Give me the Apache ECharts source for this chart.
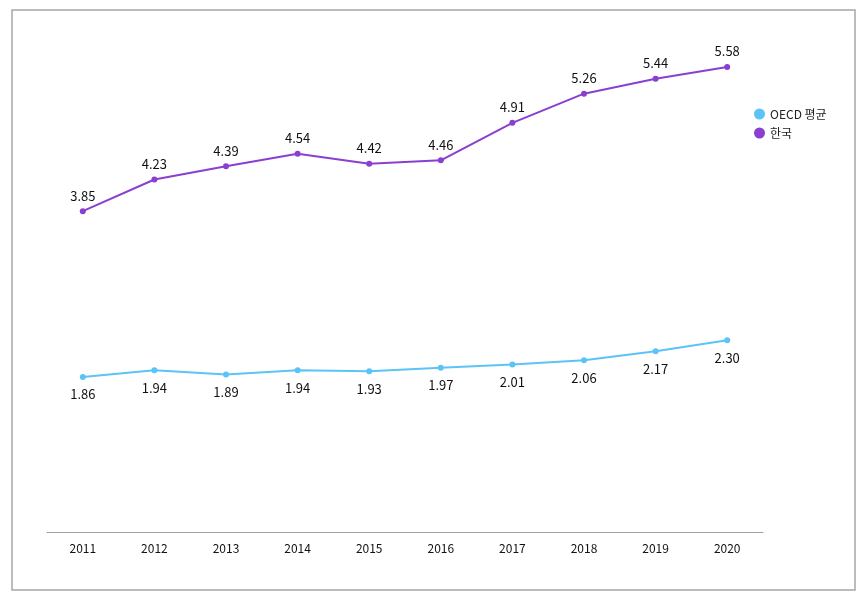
<!DOCTYPE html>
<html><head><meta charset="utf-8">
<script src="https://cdn.jsdelivr.net/npm/echarts@6/dist/echarts.min.js"></script>
<style>html,body{margin:0;padding:0;background:#fff}#c{width:866px;height:602px}</style>
</head><body><div id="c"></div>
<script>
const categories = ['2011','2012','2013','2014','2015','2016','2017','2018','2019','2020'];
const oecdValues = [1.86,1.94,1.89,1.94,1.93,1.97,2.01,2.06,2.17,2.30];
const koreaValues = [3.85,4.23,4.39,4.54,4.42,4.46,4.91,5.26,5.44,5.58];
const seriesNames = ['OECD 평균','한국'];

const chart = echarts.init(document.getElementById('c'));
const font = '"Malgun Gothic","Noto Sans CJK KR","Noto Sans",sans-serif';
chart.setOption({
  animation:false,
  backgroundColor:'#fff',
  graphic:[{type:'rect',shape:{x:12,y:10,width:843,height:580},style:{fill:'none',stroke:'#a6a6a6',lineWidth:1.5},silent:true}],
  grid:{left:47,right:103,top:32,bottom:70},
  legend:{
    orient:'vertical',left:749,top:103,itemGap:7,itemWidth:11,itemHeight:11,icon:'circle',
    textStyle:{fontFamily:font,fontSize:12,color:'#222'},
    data:seriesNames
  },
  xAxis:{
    type:'category',data:categories,boundaryGap:true,
    axisLine:{lineStyle:{color:'#a0a0a0',width:1}},
    axisTick:{alignWithLabel:true,length:4,lineStyle:{color:'#a0a0a0'}},
    axisLabel:{color:'#111',fontSize:12,fontFamily:font,margin:10}
  },
  yAxis:{type:'value',min:0,max:6,show:false,splitLine:{show:false}},
  series:[
    {name:seriesNames[0],type:'line',data:oecdValues,symbol:'circle',symbolSize:6,
     itemStyle:{color:'#5BC4F7'},lineStyle:{color:'#5BC4F7',width:2},
     label:{show:true,position:'bottom',distance:8,formatter:p=>p.value.toFixed(2),color:'#111',fontSize:13,fontFamily:font}},
    {name:seriesNames[1],type:'line',data:koreaValues,symbol:'circle',symbolSize:6,
     itemStyle:{color:'#8A3FD1'},lineStyle:{color:'#8A3FD1',width:2},
     label:{show:true,position:'top',distance:6,formatter:p=>p.value.toFixed(2),color:'#111',fontSize:13,fontFamily:font}}
  ]
});
</script></body></html>
